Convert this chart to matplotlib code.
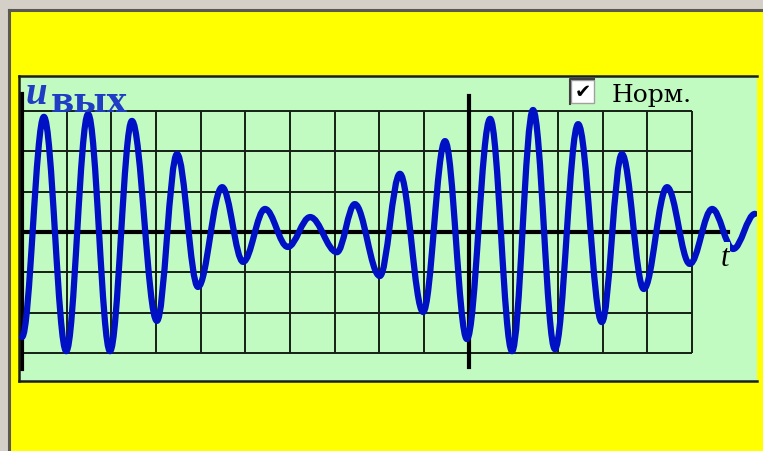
import matplotlib.pyplot as plt
from matplotlib.patches import Rectangle, PathPatch
from matplotlib.path import Path

# экстремумы сигнала u_вых: x в клетках сетки, y в клетках сетки
t_pts = [0.0, 0.49, 0.99, 1.48, 1.97, 2.46, 3.02, 3.47, 3.94, 4.48, 4.95,
         5.44, 5.95, 6.45, 7.05, 7.45, 8.01, 8.46, 8.98, 9.47, 9.96, 10.48,
         10.97, 11.44, 11.93, 12.45, 12.98, 13.43, 13.92, 14.44, 14.95, 15.45,
         15.92, 16.41]
u_pts = [-2.6, 2.85, -2.95, 2.92, -2.95, 2.75, -2.20, 1.93, -1.36, 1.11, -0.74,
         0.57, -0.37, 0.37, -0.50, 0.69, -1.09, 1.44, -1.98, 2.25, -2.65, 2.80,
         -2.95, 3.02, -2.90, 2.67, -2.23, 1.93, -1.41, 1.11, -0.79, 0.57,
         -0.42, 0.45]

grid_x = list(range(0, 16))
grid_y = list(range(-3, 4))

title_u = 'u'
title_sub = 'вых'
check_label = 'Норм.'
axis_label = 't'

W, H = 763, 452
fig = plt.figure(figsize=(W / 100, H / 100), dpi=100)
fig.patch.set_facecolor('#d4d0c8')

# фон в пикселях
bg = fig.add_axes([0, 0, 1, 1])
bg.set_xlim(0, W)
bg.set_ylim(H, 0)
bg.axis('off')
bg.add_patch(Rectangle((10, 12), W, H, facecolor='#ffff00', edgecolor='none'))
bg.plot([9, 9], [11, H], color='#5a5850', lw=2.2)
bg.plot([9, W], [11, 11], color='#5a5850', lw=2.2)

# панель графика
x0, x1 = 19, 757
y0, y1 = 77, 382
ax = fig.add_axes([x0 / W, (H - y1) / H, (x1 - x0) / W, (y1 - y0) / H])
ax.set_facecolor('#c2fbc2')
ax.set_xlim((x0 - 22) / 44.67, (x1 - 22) / 44.67)
ax.set_ylim((233 - y1) / 40.4, (233 - y0) / 40.4)
ax.set_xticks([])
ax.set_yticks([])
for s in ['top', 'bottom', 'left']:
    ax.spines[s].set_color('#1a201a')
    ax.spines[s].set_linewidth(1.8)
ax.spines['right'].set_visible(False)

# сетка
ax.vlines(grid_x, grid_y[0], grid_y[-1], color='#142014', lw=1.4, zorder=1)
ax.hlines(grid_y, grid_x[0], grid_x[-1], color='#142014', lw=1.4, zorder=1)

# оси
ax.plot([0, 15.8], [0, 0], color='black', lw=3, zorder=2)
ax.plot([0, 0], [-3.39, 3.42], color='black', lw=3, zorder=2)
ax.plot([10, 10], [-3.35, 3.37], color='black', lw=3, zorder=2)

# сигнал: гладкая кривая через экстремумы (кубические Безье,
# горизонтальные касательные в вершинах)
k = 0.364
verts = [(t_pts[0], u_pts[0])]
codes = [Path.MOVETO]
for i in range(1, len(t_pts)):
    xa, ya = t_pts[i - 1], u_pts[i - 1]
    xb, yb = t_pts[i], u_pts[i]
    dx = xb - xa
    verts += [(xa + k * dx, ya), (xb - k * dx, yb), (xb, yb)]
    codes += [Path.CURVE4] * 3
ax.add_patch(PathPatch(Path(verts, codes), facecolor='none',
                       edgecolor='#0010c4', lw=4.5, joinstyle='round',
                       capstyle='round', zorder=3))

# подписи
px = bg.transData
ax.text(26, 104, title_u, transform=px, family='Liberation Serif',
        style='italic', weight='bold', fontsize=28, color='#1f3cc4',
        zorder=5, clip_on=False)
ax.text(51, 112, title_sub, transform=px, family='DejaVu Serif',
        weight='bold', fontsize=24, color='#1f3cc4', zorder=5, clip_on=False)
ax.text(721, 266, axis_label, transform=px, family='Liberation Serif',
        style='italic', fontsize=22, color='black', zorder=5, clip_on=False,
        bbox=dict(facecolor='#c2fbc2', edgecolor='none', pad=0.5))

# флажок
ax.add_patch(Rectangle((571, 81), 23, 23, transform=px, facecolor='white',
                       edgecolor='#a0a0a0', lw=1, zorder=5, clip_on=False))
ax.plot([570, 570, 594], [105, 80, 80], transform=px, color='#404040',
        lw=1.5, zorder=6, clip_on=False)
ax.text(582.5, 93, '✔', transform=px, family='DejaVu Sans', fontsize=14,
        ha='center', va='center', color='black', zorder=7, clip_on=False)
ax.text(612, 102, check_label, transform=px, family='DejaVu Serif',
        fontsize=18, color='black', zorder=5, clip_on=False)

fig.savefig('out.png', dpi=100, facecolor=fig.get_facecolor())
